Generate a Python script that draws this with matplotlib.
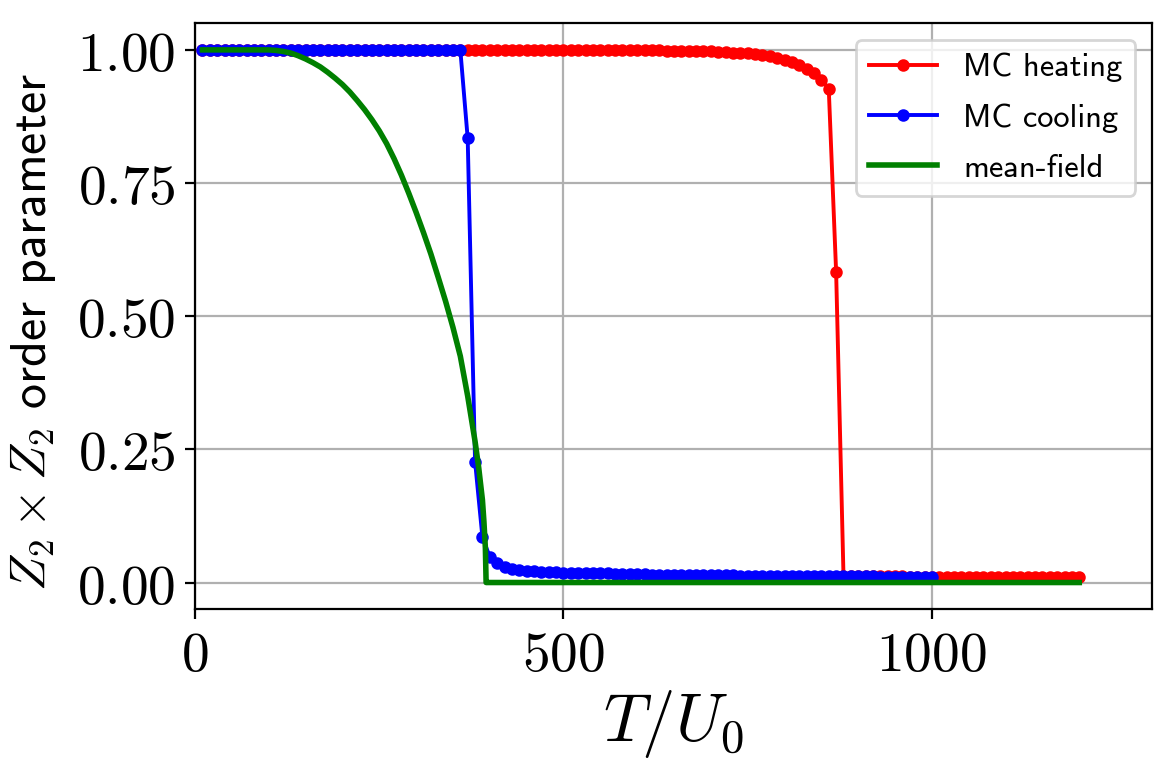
import matplotlib
matplotlib.use("Agg")
import matplotlib.pyplot as plt
import numpy as np

plt.rcParams["mathtext.fontset"] = "cm"
plt.rcParams["axes.unicode_minus"] = False

# --- Data -----------------------------------------------------------------
# MC heating run: T = 10, 20, ..., 1200
T_heat = np.arange(10, 1201, 10)
m_heat = [
    1.0, 1.0, 1.0, 1.0, 1.0, 1.0, 1.0, 1.0, 1.0, 1.0,            # 10-100
    1.0, 1.0, 1.0, 1.0, 1.0, 1.0, 1.0, 1.0, 1.0, 1.0,            # 110-200
    1.0, 1.0, 1.0, 1.0, 1.0, 1.0, 1.0, 1.0, 1.0, 1.0,            # 210-300
    1.0, 1.0, 1.0, 1.0, 1.0, 1.0, 1.0, 1.0, 1.0, 1.0,            # 310-400
    1.0, 1.0, 1.0, 1.0, 1.0, 1.0, 1.0, 1.0, 1.0, 1.0,            # 410-500
    1.0, 1.0, 1.0, 1.0, 1.0, 1.0, 1.0, 1.0, 0.999, 0.999,        # 510-600
    0.999, 0.999, 0.999, 0.998, 0.998, 0.998, 0.998, 0.997, 0.997, 0.997,  # 610-700
    0.996, 0.996, 0.995, 0.995, 0.994, 0.992, 0.990, 0.988, 0.985, 0.981,  # 710-800
    0.977, 0.972, 0.965, 0.956, 0.944, 0.927, 0.583, 0.013, 0.012, 0.012,  # 810-900
    0.012, 0.012, 0.012, 0.012, 0.012, 0.012, 0.011, 0.011, 0.011, 0.011,  # 910-1000
    0.011, 0.011, 0.011, 0.011, 0.011, 0.011, 0.011, 0.011, 0.010, 0.010,  # 1010-1100
    0.010, 0.010, 0.010, 0.010, 0.010, 0.010, 0.010, 0.010, 0.010, 0.010,  # 1110-1200
]

# MC cooling run: T = 10, 20, ..., 1000
T_cool = np.arange(10, 1001, 10)
m_cool = [
    1.0, 1.0, 1.0, 1.0, 1.0, 1.0, 1.0, 1.0, 1.0, 1.0,            # 10-100
    1.0, 1.0, 1.0, 1.0, 1.0, 1.0, 1.0, 1.0, 1.0, 1.0,            # 110-200
    1.0, 1.0, 1.0, 1.0, 1.0, 1.0, 1.0, 1.0, 1.0, 1.0,            # 210-300
    1.0, 1.0, 1.0, 1.0, 1.0, 1.0, 0.834, 0.227, 0.085, 0.048,    # 310-400
    0.036, 0.030, 0.026, 0.024, 0.022, 0.021, 0.020, 0.019, 0.019, 0.018,  # 410-500
    0.018, 0.018, 0.017, 0.017, 0.017, 0.017, 0.016, 0.016, 0.016, 0.016,  # 510-600
    0.016, 0.015, 0.015, 0.015, 0.015, 0.015, 0.015, 0.014, 0.014, 0.014,  # 610-700
    0.014, 0.014, 0.014, 0.013, 0.013, 0.013, 0.013, 0.013, 0.013, 0.013,  # 710-800
    0.013, 0.013, 0.012, 0.012, 0.012, 0.012, 0.012, 0.012, 0.012, 0.012,  # 810-900
    0.012, 0.012, 0.011, 0.011, 0.011, 0.011, 0.011, 0.011, 0.011, 0.011,  # 910-1000
]

# mean-field curve
T_mf = [10, 50, 100, 110, 120, 130, 140, 150, 160, 170, 180, 190, 200, 210,
        220, 230, 240, 250, 260, 270, 280, 290, 300, 310, 320, 330, 340, 350,
        360, 370, 380, 385, 390, 392, 394, 395, 400, 1200]
m_mf = [1.0, 1.0, 1.0, 0.999, 0.997, 0.994, 0.989, 0.983, 0.976, 0.968,
        0.958, 0.947, 0.935, 0.921, 0.905, 0.888, 0.869, 0.848, 0.824, 0.796,
        0.765, 0.731, 0.695, 0.657, 0.617, 0.573, 0.528, 0.479, 0.425, 0.350,
        0.265, 0.215, 0.155, 0.115, 0.065, 0.0, 0.0, 0.0]

xticks = [0, 500, 1000]
yticks = [0.0, 0.25, 0.5, 0.75, 1.0]

# --- Plot -----------------------------------------------------------------
fig = plt.figure(figsize=(5.875, 3.875), dpi=200)
ax = fig.add_axes([0.166, 0.214, 0.814, 0.756])

ax.plot(T_heat, m_heat, "-o", color="red", lw=1.4, ms=3.5, label="MC heating")
ax.plot(T_cool, m_cool, "-o", color="blue", lw=1.4, ms=3.5, label="MC cooling")
ax.plot(T_mf, m_mf, "-", color="green", lw=2.0, label="mean-field")

ax.set_xlim(0, 1298)
ax.set_ylim(-0.05, 1.05)
ax.set_xticks(xticks, labels=[f"${t}$" for t in xticks])
ax.set_yticks(yticks, labels=[f"${t:.2f}$" for t in yticks])
ax.tick_params(labelsize=20)
ax.grid(True, color="#b0b0b0", lw=0.8)

ax.set_xlabel("$T/U_0$", fontsize=24, labelpad=2)
ax.set_ylabel(r"$Z_2\times Z_2$ order parameter", fontsize=18, family="cmss10")
ax.yaxis.set_label_coords(-0.143, 0.473)

leg = ax.legend(loc="upper right", prop={"family": "cmss10", "size": 11.7},
                labelspacing=0.65, handlelength=2.1)

fig.savefig("out.png", dpi=200)
